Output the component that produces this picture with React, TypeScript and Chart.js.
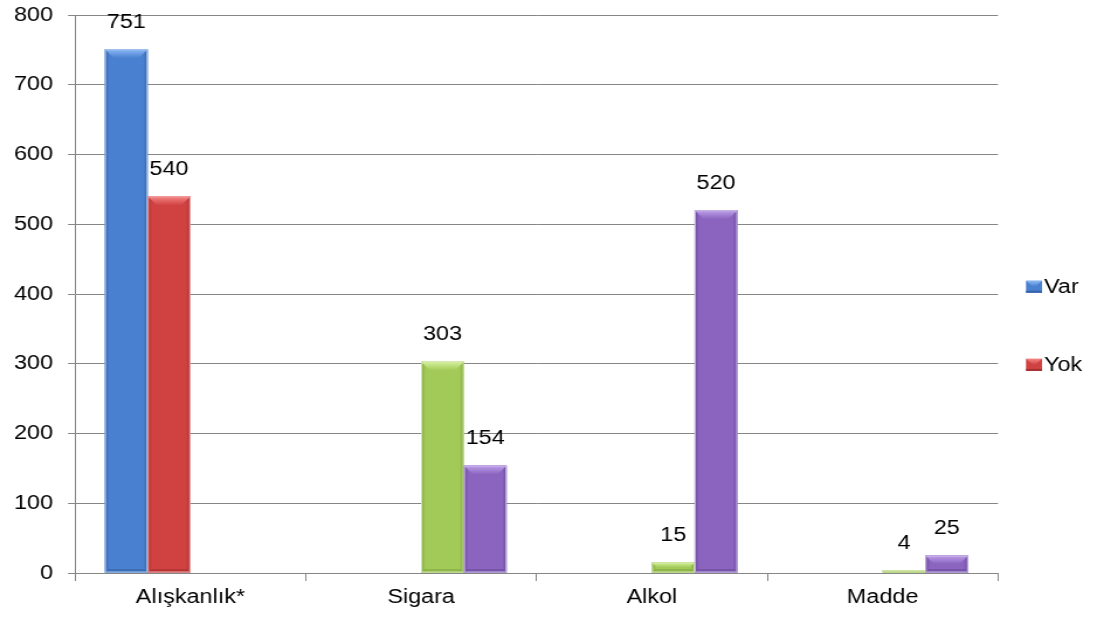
import React, { useEffect, useRef } from "react";
import { Chart, registerables } from "chart.js";

Chart.register(...registerables);

const categories = ["Alışkanlık*", "Sigara", "Alkol", "Madde"];
const legendNames = ["Var", "Yok"];
const habitVar = [751, null, null, null];
const habitYok = [540, null, null, null];
const itemVar = [null, 303, 15, 4];
const itemYok = [null, 154, 520, 25];
const yMax = 800;
const yStep = 100;

type Palette = { base: string; light: string; dark: string; edge: string };
const palettes: Palette[] = [
  { base: "#4a80d0", light: "#8dbaf5", dark: "#3462a8", edge: "#a8c6ee" },
  { base: "#d04242", light: "#f58484", dark: "#a52f2f", edge: "#eeaaaa" },
  { base: "#a2ca58", light: "#d4f09a", dark: "#80a63e", edge: "#d4e8ae" },
  { base: "#8a64be", light: "#bea0ea", dark: "#69499c", edge: "#ccb8e8" },
];

const FONT = "'Liberation Sans', Arial, sans-serif";
const FONT_SIZE = 20;
const W = 1097;
const H = 628;
const INNER_W = 938;
const SX = W / INNER_W;

const bevelPlugin = {
  id: "bevelBars",
  afterDatasetsDraw(chart: any) {
    const ctx = chart.ctx as CanvasRenderingContext2D;
    chart.data.datasets.forEach((ds: any, di: number) => {
      const meta = chart.getDatasetMeta(di);
      const pal = palettes[di];
      meta.data.forEach((el: any, i: number) => {
        const v = ds.data[i];
        if (v === null || v === undefined) return;
        const p = el.getProps(["x", "y", "base", "width"], true);
        const left = p.x - p.width / 2;
        const right = p.x + p.width / 2;
        const top = Math.min(p.y, p.base);
        const bottom = Math.max(p.y, p.base);
        const h = bottom - top;
        const w = right - left;
        const bt = Math.min(9, h / 2);
        const btx = bt / SX;
        const bs = Math.min(3.5, h / 2);
        ctx.save();
        const g = ctx.createLinearGradient(left, 0, right, 0);
        g.addColorStop(0, pal.dark);
        g.addColorStop(0.1, pal.base);
        g.addColorStop(0.9, pal.base);
        g.addColorStop(1, pal.dark);
        ctx.fillStyle = g;
        ctx.fillRect(left, top, w, h);
        ctx.fillStyle = pal.dark;
        ctx.globalAlpha = 0.6;
        ctx.beginPath();
        ctx.moveTo(left, bottom);
        ctx.lineTo(left + bs / SX, bottom - bs);
        ctx.lineTo(right - bs / SX, bottom - bs);
        ctx.lineTo(right, bottom);
        ctx.closePath();
        ctx.fill();
        ctx.globalAlpha = 1;
        const tg = ctx.createLinearGradient(0, top, 0, top + bt);
        tg.addColorStop(0, pal.light);
        tg.addColorStop(1, pal.base);
        ctx.fillStyle = tg;
        ctx.beginPath();
        ctx.moveTo(left, top);
        ctx.lineTo(right, top);
        ctx.lineTo(right - btx, top + bt);
        ctx.lineTo(left + btx, top + bt);
        ctx.closePath();
        ctx.fill();
        ctx.strokeStyle = pal.edge;
        ctx.lineWidth = 1;
        ctx.strokeRect(left + 0.5, top + 0.5, w - 1, h - 1);
        ctx.restore();

        ctx.save();
        ctx.fillStyle = "#000";
        ctx.font = `${FONT_SIZE}px ${FONT}`;
        ctx.textAlign = "center";
        ctx.textBaseline = "middle";
        ctx.fillText(String(v), p.x, top - 27);
        ctx.restore();
      });
    });
  },
  afterDraw(chart: any) {
    const ctx = chart.ctx as CanvasRenderingContext2D;
    const a = chart.chartArea;
    const fracs = [0.487, 0.627];
    legendNames.forEach((name, i) => {
      const pal = palettes[i];
      const cy = a.top + (a.bottom - a.top) * fracs[i];
      const bx = a.right + 28 / SX;
      const bw = 16 / SX;
      const bh = 12;
      const by = cy - bh / 2;
      ctx.save();
      ctx.fillStyle = pal.base;
      ctx.fillRect(bx, by, bw, bh);
      const tg = ctx.createLinearGradient(0, by, 0, by + 6);
      tg.addColorStop(0, pal.light);
      tg.addColorStop(1, pal.base);
      ctx.fillStyle = tg;
      ctx.beginPath();
      ctx.moveTo(bx, by);
      ctx.lineTo(bx + bw, by);
      ctx.lineTo(bx + bw / 2, by + bh * 0.6);
      ctx.closePath();
      ctx.fill();
      ctx.fillStyle = pal.dark;
      ctx.fillRect(bx, by + bh - 2, bw, 2);
      ctx.fillStyle = "#000";
      ctx.font = `${FONT_SIZE}px ${FONT}`;
      ctx.textAlign = "left";
      ctx.textBaseline = "middle";
      ctx.fillText(name, bx + bw + 2 / SX, cy + 1);
      ctx.restore();
    });
  },
};

export default function App() {
  const ref = useRef<HTMLCanvasElement | null>(null);
  useEffect(() => {
    if (!ref.current) return;
    const mk = (label: string, data: (number | null)[], i: number) => ({
      label,
      data,
      backgroundColor: palettes[i].base,
      borderWidth: 0,
      categoryPercentage: 0.741,
      barPercentage: 1,
    });
    const chart = new Chart(ref.current, {
      type: "bar",
      data: {
        labels: categories,
        datasets: [
          mk(legendNames[0], habitVar, 0),
          mk(legendNames[1], habitYok, 1),
          mk(legendNames[0], itemVar, 2),
          mk(legendNames[1], itemYok, 3),
        ],
      },
      options: {
        animation: false,
        responsive: true,
        maintainAspectRatio: false,
        layout: { padding: { top: 15, right: (W - 998) / SX, bottom: 0, left: 0 } },
        plugins: {
          legend: { display: false },
          tooltip: { enabled: false },
        },
        scales: {
          x: {
            grid: {
              display: true,
              drawOnChartArea: false,
              drawTicks: true,
              tickLength: 8,
              color: "#868686",
              offset: true,
            },
            border: { display: true, color: "#868686", width: 1 },
            ticks: {
              color: "#000",
              font: { family: FONT, size: FONT_SIZE },
              padding: 4,
            },
            afterFit: (s: any) => {
              s.height = 55;
              s.paddingLeft = 0;
              s.paddingRight = 0;
            },
          },
          y: {
            min: 0,
            max: yMax,
            ticks: {
              stepSize: yStep,
              color: "#000",
              font: { family: FONT, size: FONT_SIZE },
              padding: 15 / SX,
            },
            grid: {
              color: "#868686",
              tickLength: 7 / SX,
              drawTicks: true,
            },
            border: { display: true, color: "#868686", width: 1 },
            afterFit: (s: any) => {
              s.width = 75 / SX;
              s.paddingTop = 0;
              s.paddingBottom = 0;
            },
          },
        },
      },
      plugins: [bevelPlugin],
    });
    return () => chart.destroy();
  }, []);
  return (
    <div style={{ position: "fixed", left: 0, top: 0, width: W, height: H, background: "#fff", overflow: "hidden" }}>
      <div
        style={{
          width: INNER_W,
          height: H,
          transform: `scaleX(${SX})`,
          transformOrigin: "0 0",
        }}
      >
        <canvas ref={ref} />
      </div>
    </div>
  );
}
